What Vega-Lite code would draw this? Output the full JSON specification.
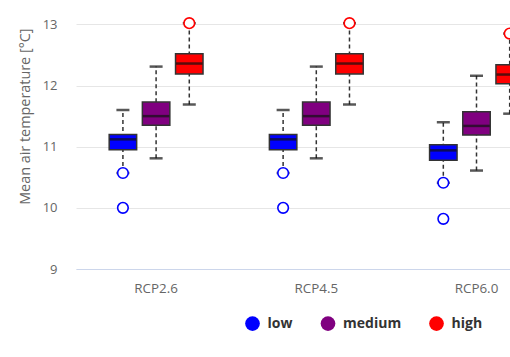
{
  "$schema": "https://vega.github.io/schema/vega-lite/v6.json",
  "width": 434,
  "height": 260,
  "autosize": {"type": "none"},
  "padding": {"left": 76, "top": 9, "right": 0, "bottom": 88},
  "background": "white",
  "config": {
    "view": {"stroke": null},
    "font": "Open Sans"
  },
  "datasets": {
    "boxes": [
      {"scenario": "RCP2.6", "level": "low", "lower": 10.57, "q1": 10.95, "median": 11.12, "q3": 11.20, "upper": 11.60},
      {"scenario": "RCP2.6", "level": "medium", "lower": 10.81, "q1": 11.35, "median": 11.50, "q3": 11.73, "upper": 12.31},
      {"scenario": "RCP2.6", "level": "high", "lower": 11.69, "q1": 12.19, "median": 12.36, "q3": 12.52, "upper": 13.02},
      {"scenario": "RCP4.5", "level": "low", "lower": 10.57, "q1": 10.95, "median": 11.12, "q3": 11.20, "upper": 11.60},
      {"scenario": "RCP4.5", "level": "medium", "lower": 10.81, "q1": 11.35, "median": 11.50, "q3": 11.73, "upper": 12.31},
      {"scenario": "RCP4.5", "level": "high", "lower": 11.69, "q1": 12.19, "median": 12.36, "q3": 12.52, "upper": 13.02},
      {"scenario": "RCP6.0", "level": "low", "lower": 10.41, "q1": 10.78, "median": 10.94, "q3": 11.03, "upper": 11.40},
      {"scenario": "RCP6.0", "level": "medium", "lower": 10.61, "q1": 11.19, "median": 11.34, "q3": 11.57, "upper": 12.16},
      {"scenario": "RCP6.0", "level": "high", "lower": 11.54, "q1": 12.03, "median": 12.18, "q3": 12.34, "upper": 12.85}
    ],
    "outliers": [
      {"scenario": "RCP2.6", "level": "low", "value": 10.57},
      {"scenario": "RCP2.6", "level": "low", "value": 10.00},
      {"scenario": "RCP2.6", "level": "high", "value": 13.02},
      {"scenario": "RCP4.5", "level": "low", "value": 10.57},
      {"scenario": "RCP4.5", "level": "low", "value": 10.00},
      {"scenario": "RCP4.5", "level": "high", "value": 13.02},
      {"scenario": "RCP6.0", "level": "low", "value": 10.41},
      {"scenario": "RCP6.0", "level": "low", "value": 9.82},
      {"scenario": "RCP6.0", "level": "high", "value": 12.85}
    ]
  },
  "encoding": {
    "x": {
      "field": "scenario",
      "type": "nominal",
      "sort": ["RCP2.6", "RCP4.5", "RCP6.0"],
      "scale": {"domain": ["RCP2.6", "RCP4.5", "RCP6.0"], "range": [0, 480.6], "paddingInner": 0, "paddingOuter": 0},
      "axis": {
        "title": null,
        "labelAngle": 0,
        "labelFont": "Open Sans",
        "labelFontSize": 13.4,
        "labelColor": "#666666",
        "labelPadding": 12,
        "ticks": false,
        "domain": true,
        "domainColor": "#ccd6eb",
        "domainWidth": 1,
        "grid": false
      }
    },
    "xOffset": {
      "field": "level",
      "type": "nominal",
      "sort": ["low", "medium", "high"],
      "scale": {"domain": ["low", "medium", "high"], "paddingInner": 0.172, "paddingOuter": 1.089}
    }
  },
  "layer": [
    {
      "data": {"name": "boxes"},
      "mark": {"type": "rule", "color": "#333333", "strokeWidth": 1.5, "strokeDash": [4, 3]},
      "encoding": {
        "y": {
          "field": "lower",
          "type": "quantitative",
          "scale": {"domain": [9, 14], "range": [260, -45.75], "nice": false, "zero": false},
          "axis": {
            "title": "Mean air temperature [°C]",
            "titleFont": "Open Sans",
            "titleFontSize": 14.4,
            "titleFontWeight": "normal",
            "titleColor": "#666666",
            "titlePadding": 10,
            "values": [9, 10, 11, 12, 13],
            "labelFont": "Open Sans",
            "labelFontSize": 13,
            "labelColor": "#666666",
            "labelPadding": 19,
            "ticks": false,
            "tickSize": 0,
            "domain": false,
            "grid": true,
            "gridColor": "#e6e6e6",
            "gridWidth": 1
          }
        },
        "y2": {"field": "upper"}
      }
    },
    {
      "data": {"name": "boxes"},
      "mark": {"type": "tick", "color": "#111111", "size": 13, "thickness": 2.5, "orient": "horizontal"},
      "encoding": {"y": {"field": "lower", "type": "quantitative"}}
    },
    {
      "data": {"name": "boxes"},
      "mark": {"type": "tick", "color": "#111111", "size": 13, "thickness": 2.5, "orient": "horizontal"},
      "encoding": {"y": {"field": "upper", "type": "quantitative"}}
    },
    {
      "data": {"name": "boxes"},
      "mark": {"type": "bar", "stroke": "#333333", "strokeWidth": 1.5, "opacity": 1},
      "encoding": {
        "y": {"field": "q1", "type": "quantitative"},
        "y2": {"field": "q3"},
        "color": {
          "field": "level",
          "type": "nominal",
          "scale": {"domain": ["low", "medium", "high"], "range": ["#0000ff", "#800080", "#ff0000"]},
          "legend": {
            "title": null,
            "orient": "none",
            "legendX": 169,
            "legendY": 307,
            "direction": "horizontal",
            "symbolType": "circle",
            "symbolSize": 216,
            "symbolStrokeWidth": 0,
            "symbolOpacity": 1,
            "labelFont": "Open Sans",
            "labelFontSize": 14,
            "labelFontWeight": "bold",
            "labelColor": "#333333",
            "labelOffset": 7.6,
            "columnPadding": 27.5,
            "padding": 0
          }
        }
      }
    },
    {
      "data": {"name": "boxes"},
      "mark": {"type": "tick", "color": "#111111", "size": 26.5, "thickness": 2.5, "orient": "horizontal"},
      "encoding": {"y": {"field": "median", "type": "quantitative"}}
    },
    {
      "data": {"name": "outliers"},
      "mark": {"type": "point", "shape": "circle", "filled": false, "fill": "white", "fillOpacity": 1, "size": 112, "strokeWidth": 1.6, "opacity": 1},
      "encoding": {
        "y": {"field": "value", "type": "quantitative"},
        "stroke": {
          "field": "level",
          "type": "nominal",
          "scale": {"domain": ["low", "medium", "high"], "range": ["#0000ff", "#800080", "#ff0000"]},
          "legend": null
        }
      }
    }
  ]
}
